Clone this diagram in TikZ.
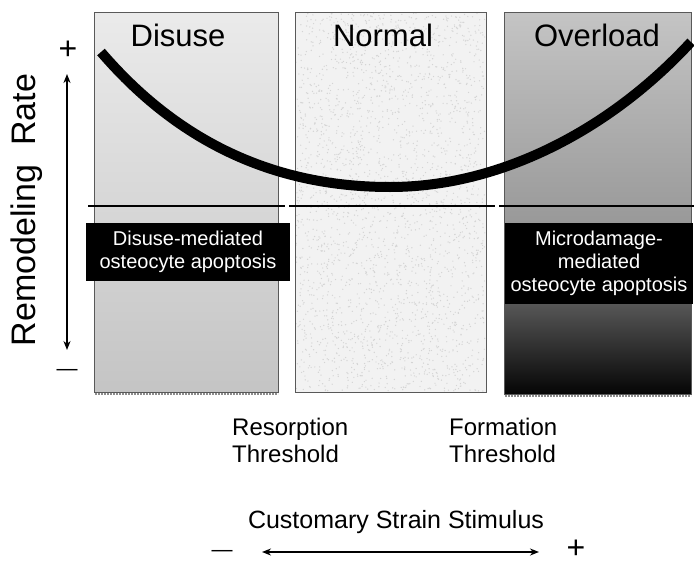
\documentclass[tikz,border=0pt]{standalone}
\usepackage{fontspec}
\setmainfont{Liberation Sans}
\usetikzlibrary{arrows.meta,positioning}

\tikzset{
  panel/.style={draw=black!65, line width=0.8pt},
  title/.style={font=\fontsize{31}{34}\selectfont, anchor=base, inner sep=0pt},
  blackbox/.style={fill=black, text=white, align=center, inner sep=0pt,
    font=\fontsize{20}{23}\selectfont},
  thresh/.style={align=left, anchor=base west, inner sep=0pt,
    font=\fontsize{24}{27}\selectfont},
  plussign/.style={font=\fontsize{32}{32}\selectfont, inner sep=0pt},
  minussign/.style={font=\fontsize{21}{21}\selectfont, inner sep=0pt},
  dbl/.style={{Stealth[length=9pt,width=7pt]}-{Stealth[length=9pt,width=7pt]}, line width=1.6pt},
  hatch/.style={draw=black!45, densely dotted, line width=2pt},
}

\begin{document}
\begin{tikzpicture}[x=1pt,y=-1pt]
\useasboundingbox (0,0) rectangle (694,565);

% panels
\shade[top color=black!8, bottom color=black!23] (94,12) rectangle (278,392);
\draw[panel] (94,12) rectangle (278,392);
\draw[hatch] (95,394) -- (278,394);

\fill[black!5] (295,12) rectangle (486,392);
\pgfmathsetseed{7}
\foreach \i in {1,...,2600}{
  \fill[black!17] ({296+189*rnd},{13+378*rnd}) circle (0.7);
}
\draw[panel] (295,12) rectangle (486,392);

\shade[top color=black!23, bottom color=black!40] (504,12) rectangle (691,223);
\shade[top color=black!66, bottom color=black!98] (504,304) rectangle (691,394);
\draw[panel] (504,12) rectangle (691,394);
\draw[hatch] (505,396) -- (691,396);

% titles
\node[title] (disuse) at (178,46) {Disuse};
\node[title] (normal) at (383,46) {Normal};
\node[title] (overload) at (597,46) {Overload};

% threshold line
\coordinate (h0) at (88,206);
\coordinate (h1) at (285,206);
\coordinate (h2) at (289,206);
\coordinate (h3) at (495,206);
\coordinate (h4) at (499,206);
\coordinate (h5) at (694,206);
\draw[line width=1.6pt] (h0) -- (h1) (h2) -- (h3) (h4) -- (h5);

% remodeling curve
\coordinate (c0) at (101,52);
\coordinate (cmin) at (390,187);
\coordinate (c1) at (691,42);
\draw[line width=10pt] (c0) .. controls (185,150) and (285,187) .. (cmin)
  .. controls (500,187) and (610,130) .. (c1);

% black labels
\node[blackbox, minimum width=204pt, minimum height=58pt] (dis box) at (188,252)
  {Disuse-mediated\\osteocyte apoptosis};
\node[blackbox, minimum width=188pt, minimum height=81pt] (over box) at (599,263.5)
  {Microdamage-\\mediated\\osteocyte apoptosis};

% vertical axis
\node[rotate=90, inner sep=0pt, font=\fontsize{34}{34}\selectfont] (rate) at (27,210)
  {Remodeling\ \ Rate};
\node[plussign] (vplus) at (68,50) {+};
\node[minussign] (vminus) at (67,372) {---};
\coordinate (vtop) at (67,74);
\coordinate (vbot) at (67,350);
\draw[dbl] (vbot) -- (vtop);

% thresholds
\node[thresh] (resorb) at (232,462) {Resorption\\Threshold};
\node[thresh] (form) at (449,462) {Formation\\Threshold};

% horizontal axis
\node[inner sep=0pt, anchor=base, font=\fontsize{25}{25}\selectfont] (strain) at (396,528)
  {Customary Strain Stimulus};
\node[minussign] (hminus) at (222,553) {---};
\node[plussign] (hplus) at (576,549) {+};
\coordinate (hl) at (262,552);
\coordinate (hr) at (539,552);
\draw[dbl] (hl) -- (hr);
\end{tikzpicture}
\end{document}
